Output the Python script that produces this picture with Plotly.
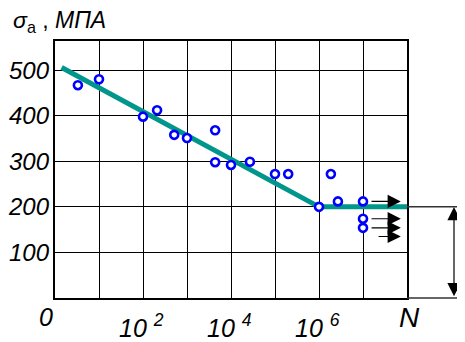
import plotly.graph_objects as go

# ---- data ----
log_n = [0.52, 1.0, 2.0, 2.32, 2.71, 3.0, 3.64, 3.64, 4.0, 4.43, 5.0, 5.3, 6.27, 6.0, 6.43, 7.0, 7.0, 7.0]
stress = [467, 480, 398, 412, 358, 351, 368, 298, 292, 299, 272, 272, 272, 200, 212, 212, 174, 154]

fit_x = [0.15, 6.0, 8.0]
fit_y = [506, 200, 200]

runout_y = [212, 174, 154, 135]
runout_start = [7.16, 7.16, 7.16, 7.32]
runout_end = [7.86, 7.86, 7.86, 7.86]

ytick_vals = [100, 200, 300, 400, 500]
ytick_text = ["100", "200", "300", "400", "500"]

xtick_vals = [0, 2, 4, 6, 8]
xtick_text = ["0", "10 <sup>2</sup>", "10 <sup>4</sup>", "10 <sup>6</sup>", "N"]

# page body has an 8px default margin; the figure is laid out in window pixels
OFF = 8
WIN_W, WIN_H = 465, 342
W, H = WIN_W - OFF, WIN_H - OFF
L, R, T, B = 55 - OFF, 58, 41 - OFF, 44
PW, PH = W - L - R, H - T - B

def px_x(p):
    return (p - OFF - L) / PW

def px_y(p):
    return (H - B - (p - OFF)) / PH

FONT = "Liberation Sans"

fig = go.Figure()
fig.add_trace(go.Scatter(x=fit_x, y=fit_y, mode="lines",
                         line=dict(color="#00968C", width=5), hoverinfo="skip"))
fig.add_trace(go.Scatter(x=log_n, y=stress, mode="markers",
                         marker=dict(symbol="circle", size=8, color="white",
                                     line=dict(color="#0000FF", width=2.6))))

ann = []
for v, t in zip(ytick_vals, ytick_text):
    ann.append(dict(x=px_x(29), y=v, xref="paper", yref="y", text=f"<i>{t}</i>",
                    showarrow=False, xanchor="center", yanchor="middle",
                    font=dict(family=FONT, size=24, color="black")))

xshift = {0: -9, 8: 2}
ycent = {0: 317, 8: 317}
for v, t in zip(xtick_vals, xtick_text):
    ann.append(dict(x=v, y=px_y(ycent.get(v, 326)), xref="x", yref="paper",
                    text=f"<i>{t}</i>", showarrow=False, xanchor="center", yanchor="middle",
                    xshift=xshift.get(v, -2),
                    font=dict(family=FONT, size=(28 if v == 8 else 25), color="black")))

ann.append(dict(x=px_x(11), y=px_y(21), xref="paper", yref="paper",
                text="<i>σ</i><sub>a</sub> , <i>МПА</i>", showarrow=False,
                xanchor="left", yanchor="middle",
                font=dict(family=FONT, size=23, color="black")))

for y0, xs, xe in zip(runout_y, runout_start, runout_end):
    ann.append(dict(x=xe, y=y0, ax=xs, ay=y0, xref="x", yref="y", axref="x", ayref="y",
                    text="", showarrow=True, arrowhead=2, arrowsize=2.4, arrowwidth=1.1,
                    arrowcolor="black", standoff=0))

ann.append(dict(x=px_x(454), y=px_y(207), xref="paper", yref="paper",
                ax=0, ay=90.7, axref="pixel", ayref="pixel",
                text="", showarrow=True, arrowhead=2, startarrowhead=2,
                arrowside="end+start", arrowsize=2.2, startarrowsize=2.2,
                arrowwidth=1.2, arrowcolor="black", standoff=0, startstandoff=0))

shapes = [
    dict(type="line", xref="paper", yref="y", x0=1, x1=px_x(WIN_W), y0=200, y1=200,
         line=dict(color="#333333", width=1.5)),
    dict(type="line", xref="paper", yref="paper", x0=1, x1=px_x(WIN_W), y0=0, y1=0,
         line=dict(color="#333333", width=1.5)),
]

axis_common = dict(showgrid=True, gridcolor="black", gridwidth=1.4, zeroline=False,
                   showline=True, linecolor="black", linewidth=1.6, mirror=True,
                   showticklabels=False, ticks="")

fig.update_layout(
    width=W, height=H, autosize=False,
    margin=dict(l=L, r=R, t=T, b=B, pad=0),
    paper_bgcolor="white", plot_bgcolor="white",
    showlegend=False,
    xaxis=dict(range=[0, 8], dtick=1, tick0=0, **axis_common),
    yaxis=dict(range=[0, 564], dtick=100, tick0=0, **axis_common),
    annotations=ann, shapes=shapes,
)

fig.write_html("out.html")
